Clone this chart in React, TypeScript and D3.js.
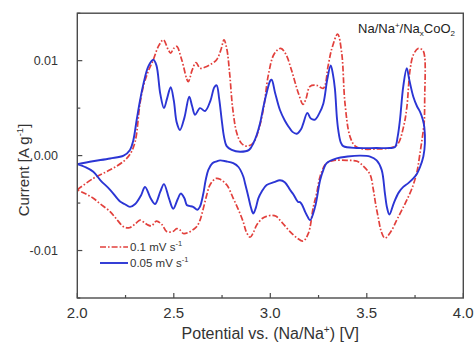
import React from "react";
import * as d3 from "d3";

// Cyclic voltammograms of a Na/Na+/NaxCoO2 half cell at two scan rates.
// Each loop starts at 2.0 V, sweeps anodically to 3.8 V and returns cathodically.

const fastPotential = [
  2.0, 2.083, 2.17, 2.24, 2.275, 2.3, 2.325, 2.345, 2.368, 2.394, 2.42, 2.446, 2.47, 2.484, 2.5, 2.515,
  2.541, 2.575, 2.595, 2.615, 2.636, 2.66, 2.69, 2.722, 2.745, 2.76, 2.775, 2.79, 2.805, 2.826, 2.85,
  2.877, 2.91, 2.935, 2.965, 2.99, 3.02, 3.054, 3.08, 3.11, 3.145, 3.17, 3.185, 3.206, 3.24, 3.275,
  3.3, 3.318, 3.349, 3.37, 3.387, 3.413, 3.44, 3.48, 3.55, 3.62, 3.66, 3.69, 3.707, 3.724, 3.741,
  3.767, 3.79, 3.8, 3.8, 3.798, 3.793, 3.776, 3.759, 3.735, 3.707, 3.68, 3.655, 3.625, 3.594, 3.575,
  3.56, 3.545, 3.534, 3.517, 3.482, 3.45, 3.4, 3.33, 3.3, 3.283, 3.258, 3.24, 3.223, 3.197, 3.17,
  3.14, 3.102, 3.059, 3.03, 3.007, 2.98, 2.96, 2.93, 2.91, 2.895, 2.875, 2.86, 2.835, 2.808, 2.775,
  2.74, 2.72, 2.705, 2.685, 2.67, 2.65, 2.636, 2.618, 2.6, 2.575, 2.549, 2.53, 2.515, 2.495, 2.463,
  2.44, 2.41, 2.385, 2.365, 2.35, 2.325, 2.3, 2.27, 2.24, 2.2, 2.17, 2.12, 2.083, 2.04, 2.0,
];
const fastCurrent = [
  -0.0036, -0.0024, -0.0015, -0.0006, 0.0002, 0.0015, 0.0055, 0.0075, 0.0089, 0.0101, 0.0115, 0.0122,
  0.0112, 0.0108, 0.0113, 0.0115, 0.0101, 0.0078, 0.009, 0.0098, 0.0092, 0.0093, 0.0096, 0.0101,
  0.0112, 0.0122, 0.0112, 0.0085, 0.005, 0.0024, 0.0013, 0.001, 0.0013, 0.0024, 0.005, 0.0085, 0.0107,
  0.0113, 0.0107, 0.009, 0.0066, 0.0054, 0.006, 0.0073, 0.0074, 0.0071, 0.0095, 0.0112, 0.0128,
  0.0108, 0.0055, 0.002, 0.001, 0.0007, 0.0007, 0.0008, 0.0012, 0.003, 0.005, 0.009, 0.0106, 0.0113,
  0.0111, 0.0104, 0.006, 0.0037, 0.0027, 0.0003, -0.0018, -0.0034, -0.0047, -0.0058, -0.0068, -0.008,
  -0.0087, -0.008, -0.0066, -0.005, -0.0036, -0.002, -0.0011, -0.0006, -0.0005, -0.0005, -0.0007,
  -0.001, -0.0022, -0.004, -0.0054, -0.0082, -0.009, -0.0087, -0.008, -0.007, -0.0064, -0.0063,
  -0.0064, -0.0066, -0.0073, -0.0082, -0.0086, -0.008, -0.007, -0.0057, -0.0045, -0.0031, -0.0025,
  -0.0024, -0.0026, -0.0032, -0.0042, -0.0058, -0.0068, -0.0075, -0.0078, -0.0081, -0.0082, -0.0078,
  -0.0077, -0.008, -0.008, -0.0073, -0.0069, -0.0074, -0.0073, -0.0071, -0.0068, -0.0072, -0.0076,
  -0.0075, -0.0066, -0.0059, -0.0051, -0.0045, -0.004, -0.0036,
];

const slowPotential = [
  2.0, 2.08, 2.17, 2.24, 2.273, 2.29, 2.308, 2.325, 2.342, 2.368, 2.394, 2.41, 2.43, 2.449, 2.465,
  2.484, 2.5, 2.515, 2.532, 2.555, 2.58, 2.595, 2.61, 2.636, 2.662, 2.69, 2.71, 2.722, 2.735, 2.748,
  2.76, 2.774, 2.8, 2.843, 2.89, 2.912, 2.93, 2.947, 2.965, 2.981, 3.0, 3.007, 3.025, 3.05, 3.075,
  3.093, 3.115, 3.137, 3.16, 3.171, 3.192, 3.21, 3.232, 3.255, 3.275, 3.295, 3.313, 3.325, 3.335,
  3.345, 3.352, 3.365, 3.378, 3.448, 3.55, 3.62, 3.646, 3.66, 3.672, 3.689, 3.707, 3.72, 3.741, 3.76,
  3.776, 3.79, 3.798, 3.801, 3.793, 3.776, 3.76, 3.741, 3.715, 3.689, 3.665, 3.64, 3.617, 3.605,
  3.594, 3.577, 3.551, 3.517, 3.465, 3.4, 3.344, 3.292, 3.275, 3.258, 3.232, 3.206, 3.19, 3.18,
  3.165, 3.154, 3.145, 3.137, 3.12, 3.102, 3.075, 3.05, 3.02, 2.981, 2.955, 2.938, 2.925, 2.912, 2.9,
  2.886, 2.87, 2.86, 2.835, 2.808, 2.77, 2.74, 2.722, 2.7, 2.679, 2.665, 2.653, 2.635, 2.622, 2.6,
  2.58, 2.567, 2.555, 2.536, 2.52, 2.497, 2.475, 2.449, 2.43, 2.403, 2.38, 2.351, 2.33, 2.3, 2.273,
  2.245, 2.22, 2.17, 2.12, 2.083, 2.04, 2.0,
];
const slowCurrent = [
  -0.0009, -0.0006, -0.0003, 0.0, 0.0006, 0.0016, 0.0038, 0.0058, 0.0075, 0.0094, 0.0101, 0.0095,
  0.0065, 0.005, 0.006, 0.0072, 0.0058, 0.0035, 0.0027, 0.004, 0.0062, 0.0052, 0.0043, 0.005, 0.0047,
  0.0058, 0.0072, 0.0074, 0.006, 0.0038, 0.002, 0.001, 0.0006, 0.0004, 0.0006, 0.0013, 0.0022,
  0.0034, 0.0052, 0.0066, 0.0079, 0.008, 0.0066, 0.0048, 0.0037, 0.0031, 0.0025, 0.0023, 0.0028,
  0.0034, 0.0045, 0.0039, 0.0038, 0.0045, 0.0055, 0.008, 0.0095, 0.0085, 0.007, 0.004, 0.0027, 0.0014,
  0.001, 0.0008, 0.0008, 0.0008, 0.0009, 0.002, 0.0038, 0.0073, 0.0092, 0.008, 0.0062, 0.0052, 0.0046,
  0.0038, 0.003, 0.0013, -0.0001, -0.0012, -0.0019, -0.0024, -0.0029, -0.0033, -0.0039, -0.005,
  -0.0062, -0.0055, -0.004, -0.0015, -0.0005, -0.0001, 0.0, -0.0001, -0.0003, -0.0008, -0.0015,
  -0.0026, -0.0054, -0.0068, -0.0063, -0.0059, -0.0052, -0.0049, -0.0049, -0.0047, -0.0041, -0.0036,
  -0.0028, -0.0026, -0.0028, -0.0031, -0.0038, -0.0045, -0.0055, -0.0061, -0.0055, -0.0043, -0.003,
  -0.0022, -0.0012, -0.0008, -0.0006, -0.0005, -0.0006, -0.0008, -0.0015, -0.0026, -0.004, -0.0054,
  -0.0057, -0.0054, -0.0053, -0.0052, -0.0045, -0.004, -0.0046, -0.0056, -0.0045, -0.003, -0.0038,
  -0.0051, -0.0045, -0.0033, -0.0042, -0.0051, -0.0054, -0.0051, -0.0048, -0.0036, -0.0026, -0.0017,
  -0.0012, -0.0009,
];

const xMajorTicks = [2.0, 2.5, 3.0, 3.5, 4.0];
const xMinorTicks = [2.25, 2.75, 3.25, 3.75];
const yMajorTicks = [-0.01, 0.0, 0.01];
const yMinorTicks = [-0.015, -0.005, 0.005, 0.015];

const W = 476;
const H = 343;
const M = { left: 77.3, right: 463.3, top: 13.2, bottom: 298 };
const FONT = "'Liberation Sans', Arial, Helvetica, sans-serif";
const RED = "#e2403c";
const BLUE = "#2b35d4";
const FRAME = "#4a4a4a";
const RED_DASH = "6 2 1.6 2";

const x = d3.scaleLinear().domain([2.0, 4.0]).range([M.left, M.right]);
const y = d3.scaleLinear().domain([-0.015, 0.015]).range([M.bottom, M.top]);

const line = d3
  .line<[number, number]>()
  .x((d) => x(d[0]))
  .y((d) => y(d[1]))
  .curve(d3.curveCatmullRom.alpha(0.5));

const zip = (a: number[], b: number[]): [number, number][] => a.map((v, i) => [v, b[i]]);

const fmtY = (v: number) => (Math.abs(v) < 1e-9 ? "0.00" : v.toFixed(2));

export default function App() {
  const fastPath = line(zip(fastPotential, fastCurrent)) ?? "";
  const slowPath = line(zip(slowPotential, slowCurrent)) ?? "";

  return (
    <svg
      width={W}
      height={H}
      viewBox={`0 0 ${W} ${H}`}
      style={{ position: "absolute", left: 0, top: 0, background: "#fff" }}
      fontFamily={FONT}
    >
      <defs>
        <clipPath id="plot-area">
          <rect x={M.left} y={M.top} width={M.right - M.left} height={M.bottom - M.top} />
        </clipPath>
      </defs>

      <g clipPath="url(#plot-area)" fill="none" strokeLinejoin="round">
        <path d={fastPath} stroke={RED} strokeWidth={1.7} strokeDasharray={RED_DASH} />
        <path d={slowPath} stroke={BLUE} strokeWidth={1.9} />
      </g>

      {/* frame */}
      <rect
        x={M.left}
        y={M.top}
        width={M.right - M.left}
        height={M.bottom - M.top}
        fill="none"
        stroke={FRAME}
        strokeWidth={1.4}
      />

      {/* x ticks (inward) */}
      {xMajorTicks.map((t) => (
        <g key={`xM${t}`}>
          <line x1={x(t)} x2={x(t)} y1={M.bottom} y2={M.bottom - 5} stroke={FRAME} strokeWidth={1.2} />
          <text x={x(t)} y={318} textAnchor="middle" fontSize={15} fill="#333">
            {t.toFixed(1)}
          </text>
        </g>
      ))}
      {xMinorTicks.map((t) => (
        <line key={`xm${t}`} x1={x(t)} x2={x(t)} y1={M.bottom} y2={M.bottom - 3} stroke={FRAME} strokeWidth={1.2} />
      ))}

      {/* y ticks (inward) */}
      {yMajorTicks.map((t) => (
        <g key={`yM${t}`}>
          <line x1={M.left} x2={M.left + 5} y1={y(t)} y2={y(t)} stroke={FRAME} strokeWidth={1.2} />
          <text x={58} y={y(t) + 4.3} textAnchor="end" fontSize={12.5} fill="#333">
            {fmtY(t)}
          </text>
        </g>
      ))}
      {yMinorTicks.map((t) => (
        <line key={`ym${t}`} x1={M.left} x2={M.left + 3} y1={y(t)} y2={y(t)} stroke={FRAME} strokeWidth={1.2} />
      ))}

      {/* axis titles */}
      <text x={(M.left + M.right) / 2} y={339} textAnchor="middle" fontSize={16} fill="#333">
        Potential vs. (Na/Na
        <tspan fontSize={10} dy={-6}>+</tspan>
        <tspan dy={6}>) [V]</tspan>
      </text>
      <text
        transform={`translate(29, 170) rotate(-90)`}
        textAnchor="middle"
        fontSize={15}
        fill="#333"
      >
        Current [A g
        <tspan fontSize={9.5} dy={-6}>-1</tspan>
        <tspan dy={6}>]</tspan>
      </text>

      {/* cell label */}
      <text x={455} y={33} textAnchor="end" fontSize={13} fill="#222">
        Na/Na
        <tspan fontSize={8} dy={-5}>+</tspan>
        <tspan dy={5}>/Na</tspan>
        <tspan fontSize={8} dy={3}>x</tspan>
        <tspan dy={-3}>CoO</tspan>
        <tspan fontSize={8} dy={3}>2</tspan>
      </text>

      {/* legend */}
      <g fontSize={11.5} fill="#333">
        <line x1={100} x2={128} y1={247} y2={247} stroke={RED} strokeWidth={1.7} strokeDasharray={RED_DASH} />
        <text x={130} y={251}>
          0.1 mV s<tspan fontSize={7.5} dy={-5}>-1</tspan>
        </text>
        <line x1={100} x2={128} y1={263} y2={263} stroke={BLUE} strokeWidth={1.9} />
        <text x={130} y={267}>
          0.05 mV s<tspan fontSize={7.5} dy={-5}>-1</tspan>
        </text>
      </g>
    </svg>
  );
}
